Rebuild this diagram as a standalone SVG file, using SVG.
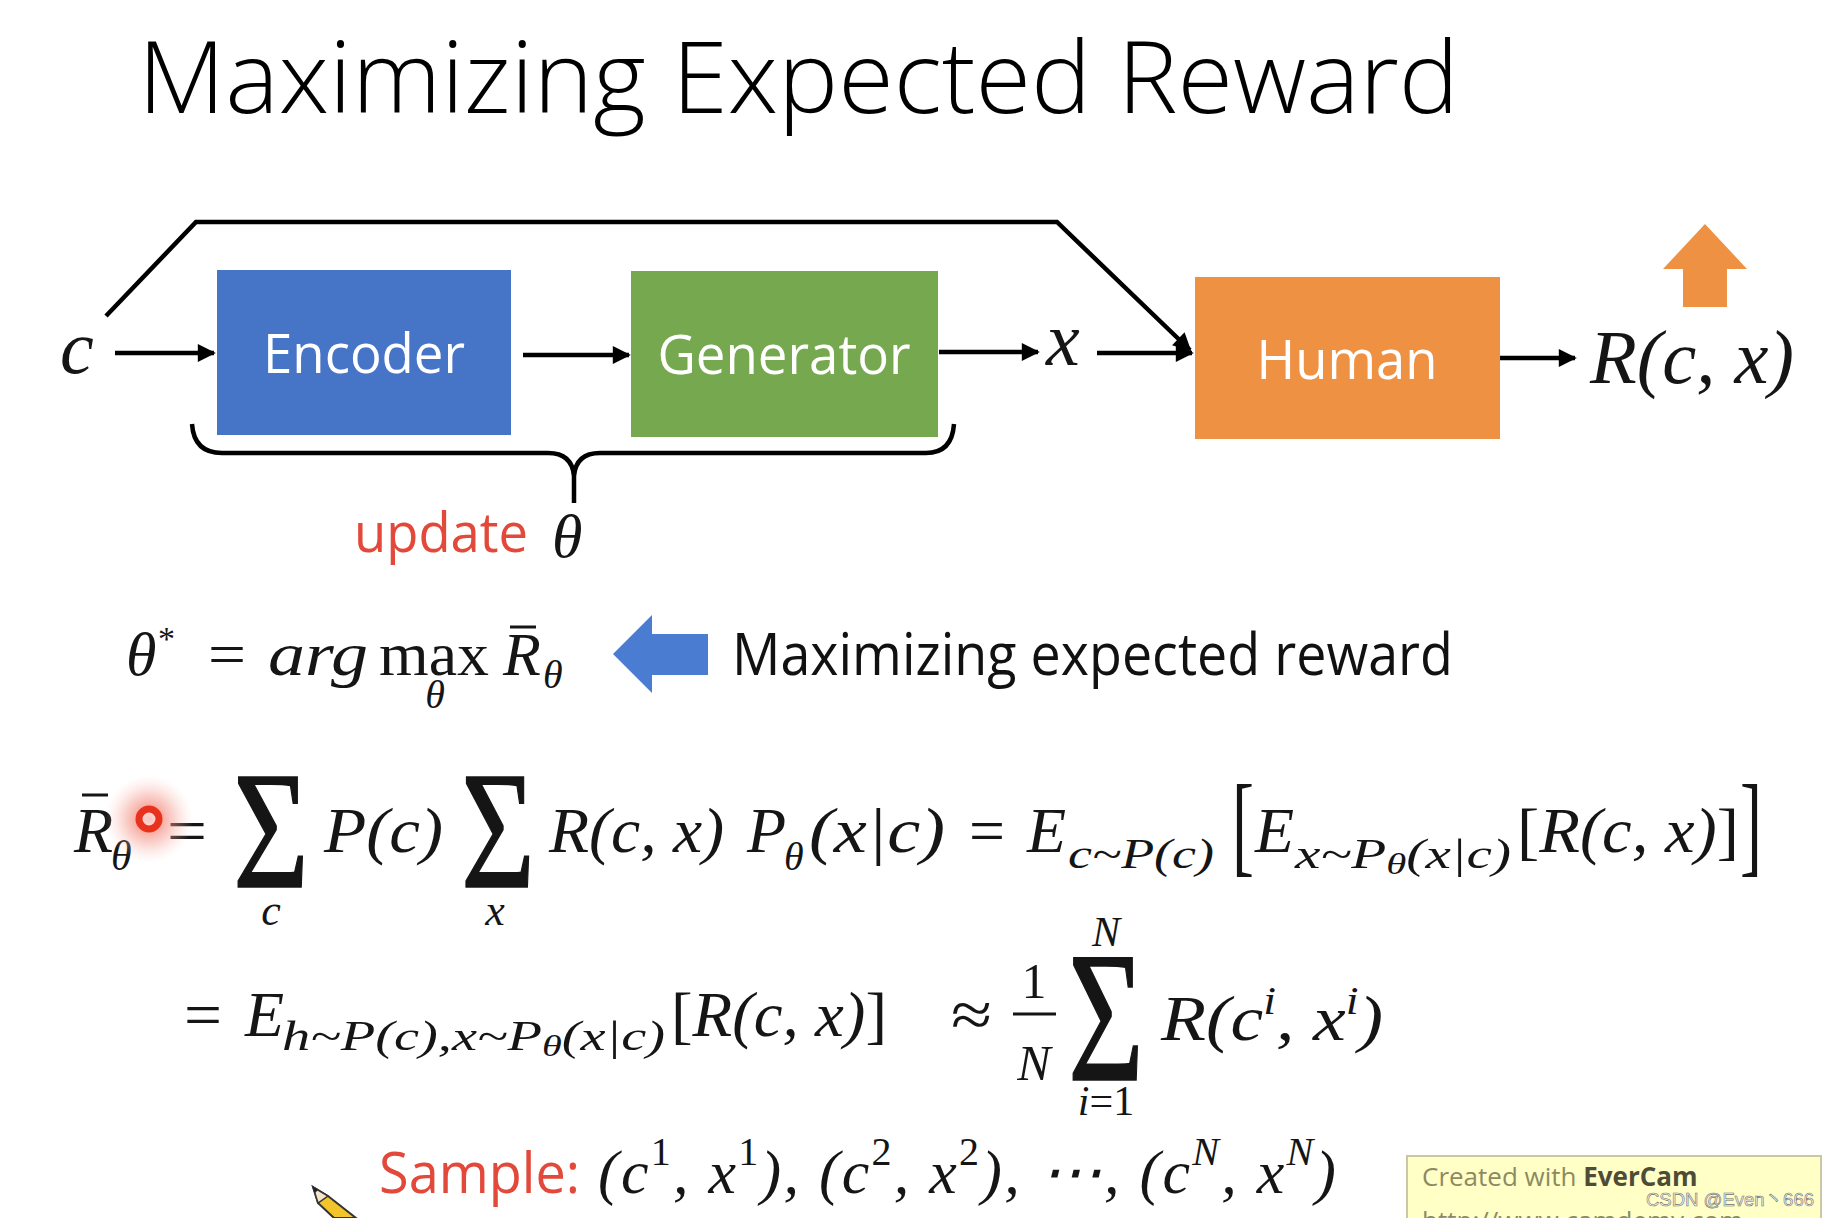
<svg xmlns="http://www.w3.org/2000/svg" width="1830" height="1218" viewBox="0 0 1830 1218">
<style>
.m{font-family:"Liberation Serif","DejaVu Serif",serif;font-style:italic;fill:#151515}
.u{font-family:"Liberation Serif","DejaVu Serif",serif;fill:#151515}
.sig{stroke:#151515;stroke-width:1.5}
.s{font-family:"Open Sans","Noto Sans","Liberation Sans",sans-serif}
.box-label{fill:#ffffff;font-size:54px;text-anchor:middle}
.line{stroke:#000;stroke-width:4.5;fill:none}
.red{fill:#E2493A}
</style>
<defs>
<marker id="ah" viewBox="0 0 10 10" refX="9" refY="5" markerWidth="4.4" markerHeight="4" orient="auto" markerUnits="strokeWidth">
<path d="M0,0 L10,5 L0,10 z" fill="#000"/>
</marker>
<radialGradient id="glow" cx="0.5" cy="0.5" r="0.5">
<stop offset="0" stop-color="#F05A48" stop-opacity="0.85"/>
<stop offset="0.55" stop-color="#F49A8E" stop-opacity="0.45"/>
<stop offset="1" stop-color="#FBD0CA" stop-opacity="0"/>
</radialGradient>
</defs>
<rect width="1830" height="1218" fill="#ffffff"/>

<text id="title" class="s" x="138" y="113" font-size="100" font-weight="300" textLength="1321" lengthAdjust="spacingAndGlyphs" fill="#000">Maximizing Expected Reward</text>

<g id="connectors">
<path class="line" d="M106,316 L196,222 L1057,222 L1190,350" marker-end="url(#ah)"/>
<line class="line" x1="115" y1="353" x2="214" y2="353" marker-end="url(#ah)"/>
<line class="line" x1="523" y1="355" x2="629" y2="355" marker-end="url(#ah)"/>
<line class="line" x1="939" y1="352" x2="1038" y2="352" marker-end="url(#ah)"/>
<line class="line" x1="1097" y1="353" x2="1192" y2="353" marker-end="url(#ah)"/>
<line class="line" x1="1500" y1="358" x2="1575" y2="358" marker-end="url(#ah)"/>
</g>

<g id="c-label"><text class="m" x="60" y="373" font-size="76">c</text></g>

<g id="encoder">
<rect x="217" y="270" width="294" height="165" fill="#4674C6"/>
<text class="s box-label" x="364" y="373" textLength="202" lengthAdjust="spacingAndGlyphs">Encoder</text>
</g>

<g id="generator">
<rect x="631" y="271" width="307" height="166" fill="#76A84F"/>
<text class="s box-label" x="784" y="374" textLength="253" lengthAdjust="spacingAndGlyphs">Generator</text>
</g>

<g id="x-label"><text class="m" x="1046" y="365" font-size="76">x</text></g>

<g id="human">
<rect x="1195" y="277" width="305" height="162" fill="#EE9143"/>
<text class="s box-label" x="1347" y="379" textLength="181" lengthAdjust="spacingAndGlyphs">Human</text>
</g>

<g id="reward-label"><text class="m" x="1590" y="383" font-size="76" textLength="204" lengthAdjust="spacingAndGlyphs">R(c, x)</text></g>

<g id="up-arrow"><polygon points="1705,224 1747,269 1727,269 1727,307 1683,307 1683,269 1663,269" fill="#EE9143"/></g>

<g id="brace">
<path class="line" d="M192,424 Q194,453 222,453 L548,453 Q572,453 574,476 L574,503 M574,476 Q576,453 600,453 L926,453 Q952,453 954,424"/>
<text class="s red" x="354" y="552" font-size="54" textLength="174" lengthAdjust="spacingAndGlyphs">update</text>
<text class="m" x="552" y="557" font-size="62">θ</text>
</g>

<g id="argmax">
<text class="m" x="126" y="675" font-size="62">θ</text>
<text class="u" x="158" y="650" font-size="34">*</text>
<text class="u" x="208" y="675" font-size="62" textLength="38" lengthAdjust="spacingAndGlyphs">=</text>
<text class="m" x="268" y="675" font-size="62" textLength="100" lengthAdjust="spacingAndGlyphs">arg</text>
<text class="u" x="379" y="675" font-size="62" textLength="110" lengthAdjust="spacingAndGlyphs">max</text>
<text class="m" x="435" y="708" font-size="40" text-anchor="middle">θ</text>
<text class="m" x="503" y="675" font-size="62">R</text>
<line x1="510" y1="627" x2="536" y2="627" stroke="#151515" stroke-width="3"/>
<text class="m" x="543" y="688" font-size="40">θ</text>
</g>

<g id="blue-arrow"><polygon points="613,654 652,615 652,634 708,634 708,675 652,675 652,693" fill="#4A7DD2"/></g>
<text id="max-label" class="s" x="732" y="675" font-size="58" textLength="721" lengthAdjust="spacingAndGlyphs" fill="#111">Maximizing expected reward</text>

<g id="eq1">
<text class="m" x="74" y="852" font-size="64">R</text>
<line x1="82" y1="795" x2="108" y2="795" stroke="#151515" stroke-width="3"/>
<text class="m" x="111" y="870" font-size="42">θ</text>
<text class="u" x="167" y="852" font-size="64" textLength="40" lengthAdjust="spacingAndGlyphs">=</text>
<text class="u sig" x="233" y="887" font-size="168" textLength="76" lengthAdjust="spacingAndGlyphs">Σ</text>
<text class="m" x="271" y="925" font-size="44" text-anchor="middle">c</text>
<text class="m" x="324" y="852" font-size="64" textLength="119" lengthAdjust="spacingAndGlyphs">P(c)</text>
<text class="u sig" x="461" y="887" font-size="168" textLength="74" lengthAdjust="spacingAndGlyphs">Σ</text>
<text class="m" x="495" y="925" font-size="44" text-anchor="middle">x</text>
<text class="m" x="549" y="852" font-size="64" textLength="175" lengthAdjust="spacingAndGlyphs">R(c, x)</text>
<text class="m" x="747" y="852" font-size="64">P</text>
<text class="m" x="784" y="870" font-size="40">θ</text>
<text class="m" x="809" y="852" font-size="64" textLength="136" lengthAdjust="spacingAndGlyphs">(x|c)</text>
<text class="u" x="969" y="852" font-size="64" textLength="36" lengthAdjust="spacingAndGlyphs">=</text>
<text class="m" x="1027" y="852" font-size="64">E</text>
<text class="m" x="1068" y="868" font-size="42" textLength="146" lengthAdjust="spacingAndGlyphs">c~P(c)</text>
<text class="u" x="1232" y="862" font-size="112" textLength="22" lengthAdjust="spacingAndGlyphs">[</text>
<text class="m" x="1255" y="852" font-size="64">E</text>
<text class="m" x="1295" y="868" font-size="42" textLength="216" lengthAdjust="spacingAndGlyphs">x~P<tspan font-size="30" dy="6">θ</tspan><tspan dy="-6">(x|c)</tspan></text>
<text class="m" x="1517" y="852" font-size="64" textLength="222" lengthAdjust="spacingAndGlyphs"><tspan font-style="normal">[</tspan>R(c, x)<tspan font-style="normal">]</tspan></text>
<text class="u" x="1740" y="862" font-size="112" textLength="22" lengthAdjust="spacingAndGlyphs">]</text>
</g>

<g id="cursor">
<circle cx="149" cy="819" r="44" fill="url(#glow)"/>
<circle cx="149" cy="819" r="10" fill="#ffffff" fill-opacity="0.6" stroke="#E8321E" stroke-width="7"/>
</g>

<g id="eq2">
<text class="u" x="184" y="1036" font-size="64" textLength="38" lengthAdjust="spacingAndGlyphs">=</text>
<text class="m" x="245" y="1036" font-size="64">E</text>
<text class="m" x="282" y="1050" font-size="42" textLength="383" lengthAdjust="spacingAndGlyphs">h~P(c),x~P<tspan font-size="30" dy="6">θ</tspan><tspan dy="-6">(x|c)</tspan></text>
<text class="m" x="671" y="1036" font-size="64" textLength="216" lengthAdjust="spacingAndGlyphs"><tspan font-style="normal">[</tspan>R(c, x)<tspan font-style="normal">]</tspan></text>
<text class="u" x="951" y="1036" font-size="64" textLength="41" lengthAdjust="spacingAndGlyphs">≈</text>
<text class="u" x="1034" y="998" font-size="50" text-anchor="middle">1</text>
<line x1="1013" y1="1014" x2="1056" y2="1014" stroke="#151515" stroke-width="3"/>
<text class="m" x="1034" y="1080" font-size="50" text-anchor="middle">N</text>
<text class="u sig" x="1068" y="1080" font-size="186" textLength="76" lengthAdjust="spacingAndGlyphs">Σ</text>
<text class="m" x="1106" y="946" font-size="42" text-anchor="middle">N</text>
<text class="m" x="1106" y="1115" font-size="42" text-anchor="middle">i<tspan font-style="normal">=1</tspan></text>
<text class="m" x="1161" y="1040" font-size="64" textLength="222" lengthAdjust="spacingAndGlyphs">R(c<tspan font-size="40" dy="-26">i</tspan><tspan dy="26">, x</tspan><tspan font-size="40" dy="-26">i</tspan><tspan dy="26">)</tspan></text>
</g>

<g id="sample">
<text class="s red" x="379" y="1193" font-size="56" textLength="201" lengthAdjust="spacingAndGlyphs">Sample:</text>
<text class="m" x="598" y="1193" font-size="62" textLength="738" lengthAdjust="spacing">(c<tspan font-size="40" font-style="normal" dy="-28">1</tspan><tspan dy="28">, x</tspan><tspan font-size="40" font-style="normal" dy="-28">1</tspan><tspan dy="28">), (c</tspan><tspan font-size="40" font-style="normal" dy="-28">2</tspan><tspan dy="28">, x</tspan><tspan font-size="40" font-style="normal" dy="-28">2</tspan><tspan dy="28">), ⋯, (c</tspan><tspan font-size="40" dy="-28">N</tspan><tspan dy="28">, x</tspan><tspan font-size="40" dy="-28">N</tspan><tspan dy="28">)</tspan></text>
</g>

<g id="pencil">
<polygon points="313,1187 328,1196 356,1218 334,1218 318,1203" fill="#F2C62A" stroke="#333" stroke-width="2"/>
<polygon points="313,1187 328,1196 318,1203" fill="#F5E6C8" stroke="#333" stroke-width="1.5"/>
<polygon points="313,1187 318,1190 315,1193" fill="#222"/>
</g>

<g id="watermark">
<rect x="1407" y="1156" width="414" height="70" fill="#FFFFC6" stroke="#C9C7A4" stroke-width="2"/>
<text x="1422" y="1186" font-family="Open Sans,'DejaVu Sans',sans-serif" font-size="26" fill="#8C8A62">Created with <tspan font-weight="bold" fill="#4E4C36">EverCam</tspan></text>
<text x="1422" y="1230" font-family="Open Sans,'DejaVu Sans',sans-serif" font-size="26" fill="#8C8A62">http://www.camdemy.com</text>
<text x="1646" y="1206" font-family="'Liberation Sans','Noto Sans CJK SC',sans-serif" font-size="19" textLength="168" lengthAdjust="spacingAndGlyphs" fill="#FAFAFA" stroke="#6E6E6E" stroke-width="0.6">CSDN @Even丶666</text>
</g>
</svg>
